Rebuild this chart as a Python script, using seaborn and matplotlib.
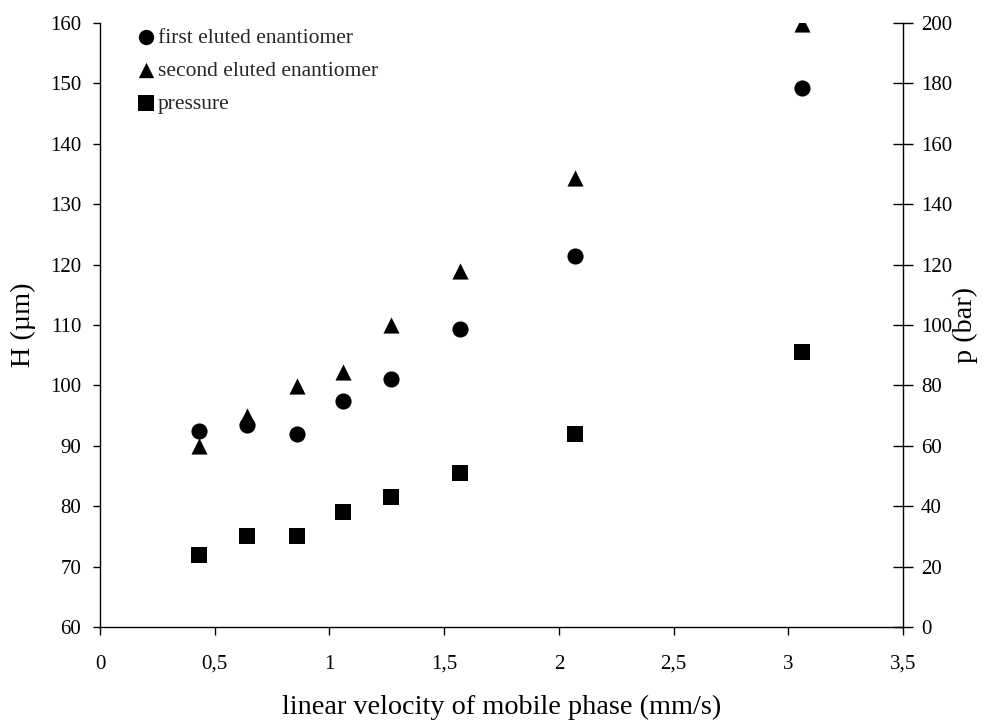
import matplotlib
matplotlib.use("Agg")
import matplotlib.pyplot as plt
import seaborn as sns
import pandas as pd

# ---- data ----
velocity = [0.43, 0.64, 0.86, 1.06, 1.27, 1.57, 2.07, 3.06]
h_first = [92.4, 93.4, 92.0, 97.4, 101.0, 109.4, 121.4, 149.3]
h_second = [90.0, 95.0, 99.9, 102.2, 110.0, 119.0, 134.3, 159.8]
pressure = [24, 30, 30, 38, 43, 51, 64, 91]

x_ticks = [0, 0.5, 1, 1.5, 2, 2.5, 3, 3.5]
x_tick_labels = ["0", "0,5", "1", "1,5", "2", "2,5", "3", "3,5"]
h_ticks = [60, 70, 80, 90, 100, 110, 120, 130, 140, 150, 160]
p_ticks = [0, 20, 40, 60, 80, 100, 120, 140, 160, 180, 200]

series_labels = ["first eluted enantiomer", "second eluted enantiomer", "pressure"]
x_label = "linear velocity of mobile phase (mm/s)"
h_label = "H (\u00b5m)"
p_label = "p (bar)"

df = pd.DataFrame({"v": velocity, "h1": h_first, "h2": h_second, "p": pressure})

sns.set_theme(style="ticks")
plt.rcParams["font.family"] = ["Liberation Serif", "DejaVu Serif"]
plt.rcParams["axes.linewidth"] = 1.0

fig = plt.figure(figsize=(9.97, 7.21), dpi=100)
ax = fig.add_axes([100 / 997, 1 - 627 / 721, 803 / 997, 604 / 721])
ax2 = ax.twinx()

msize = 135
sns.scatterplot(data=df, x="v", y="h1", ax=ax, marker="o", s=msize, color="black",
                edgecolor="black", linewidth=0, label=series_labels[0], legend=False)
sns.scatterplot(data=df, x="v", y="h2", ax=ax, marker="^", s=msize, color="black",
                edgecolor="black", linewidth=0, label=series_labels[1], legend=False)
sns.scatterplot(data=df, x="v", y="p", ax=ax2, marker="s", s=msize, color="black",
                edgecolor="black", linewidth=0, label=series_labels[2], legend=False)

for a in (ax, ax2):
    lg = a.get_legend()
    if lg is not None:
        lg.remove()

ax.set_xlim(0, 3.5)
ax.set_ylim(60, 160)
ax2.set_ylim(0, 200)

ax.set_xticks(x_ticks)
ax.set_xticklabels(x_tick_labels)
ax.set_yticks(h_ticks)
ax2.set_yticks(p_ticks)

tick_fs = 15
ax.tick_params(axis="x", direction="out", length=6, width=1, pad=14,
               labelsize=tick_fs, colors="black")
ax.tick_params(axis="y", direction="out", length=5, width=1, pad=8.5,
               labelsize=tick_fs, colors="black")
ax2.tick_params(axis="y", direction="inout", length=14, width=1, pad=6,
                labelsize=tick_fs, colors="black")

for a in (ax, ax2):
    a.spines["top"].set_visible(False)
    for s in ("left", "bottom", "right"):
        a.spines[s].set_color("black")
ax.spines["right"].set_visible(False)
ax2.spines["left"].set_visible(False)
ax2.spines["bottom"].set_visible(False)

label_fs = 20.3
ax.set_xlabel(x_label, fontsize=label_fs, color="black")
ax.set_ylabel(h_label, fontsize=label_fs, color="black")
ax2.set_ylabel(p_label, fontsize=label_fs, color="black")
ax.xaxis.set_label_coords(0.5, -0.112)
ax.yaxis.set_label_coords(-0.08, 0.5)
ax2.yaxis.set_label_coords(1.062, 0.5)

h1, l1 = ax.get_legend_handles_labels()
h2, l2 = ax2.get_legend_handles_labels()
ax2.legend(h1 + h2, l1 + l2, loc="upper left", bbox_to_anchor=(0.038, 1.006),
           frameon=False, fontsize=15.5, handlelength=0.62, handletextpad=0.26,
           labelspacing=0.6, borderaxespad=0, markerscale=0.95)

ax.grid(False)
ax2.grid(False)
fig.savefig("out.png", dpi=100, facecolor="white")
